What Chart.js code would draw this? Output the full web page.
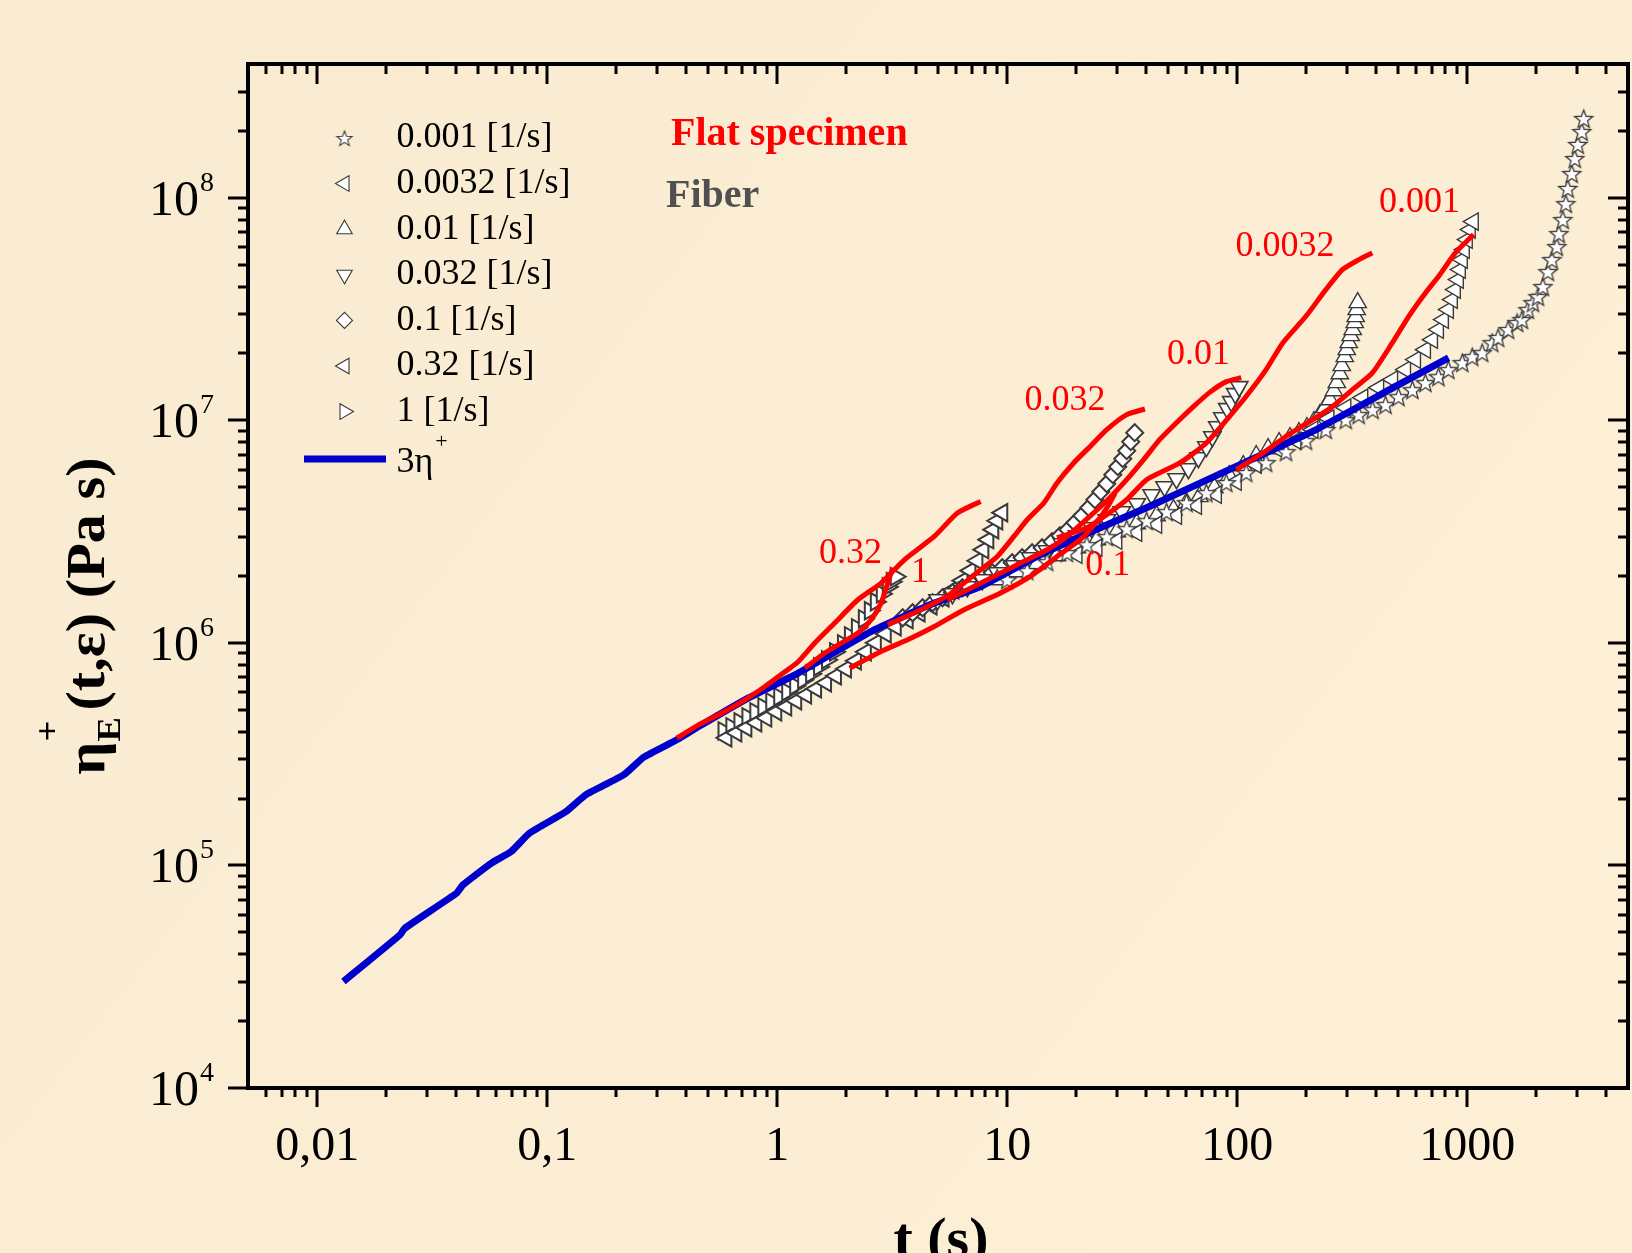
<!DOCTYPE html>
<html>
<head>
<meta charset="utf-8">
<script src="https://cdn.jsdelivr.net/npm/chart.js@4.4.1/dist/chart.umd.min.js"></script>
<style>
html,body{margin:0;padding:0;overflow:hidden;background:#FBEDD4;}
#c{display:block;}
</style>
</head>
<body>
<canvas id="c" width="1640" height="1253"></canvas>
<script>
// ---------------- DATA ----------------
// axis ticks
const xTickValues = [0.01, 0.1, 1, 10, 100, 1000];
const xTickLabels = ["0,01", "0,1", "1", "10", "100", "1000"];
const yTickExponents = [4, 5, 6, 7, 8];
const xTitle = "t (s)";
const legendLabels = ["0.001 [1/s]", "0.0032 [1/s]", "0.01 [1/s]", "0.032 [1/s]", "0.1 [1/s]", "0.32 [1/s]", "1 [1/s]"];
const envelopeLabel = "3η";

// 3 eta+ (LVE envelope), blue
const blueT   = [0.0130,0.0229,0.0240,0.0403,0.0430,0.0570,0.0697,0.0836,0.1205,0.147,0.215,0.263,0.366,0.455,0.724,1.233,2.649,4.816,7.662,13.94,20.77,40.36,99.0,212.7,487.9,829.8];
const blueEta = [3.01e4,4.88e4,5.22e4,7.50e4,8.18e4,1.023e5,1.155e5,1.396e5,1.746e5,2.077e5,2.553e5,3.069e5,3.673e5,4.212e5,5.555e5,7.32e5,1.147e6,1.511e6,1.795e6,2.493e6,3.012e6,4.055e6,6.218e6,8.93e6,1.423e7,1.910e7];

// Flat specimen (red lines)
const flat032T   = [0.366,0.455,0.555,0.724,0.885,1.080,1.233,1.456,1.777,2.242,2.828,3.571,4.816,6.075,7.662];
const flat032Eta = [3.736e5,4.287e5,4.756e5,5.555e5,6.375e5,7.42e5,8.233e5,9.99e5,1.229e6,1.564e6,1.859e6,2.366e6,3.012e6,3.838e6,4.327e6];
const flat1T     = [1.318,1.609,1.898,2.242,2.560,2.828,3.024,3.178];
const flat1Eta   = [7.71e5,9.01e5,9.99e5,1.108e6,1.272e6,1.511e6,1.859e6,2.172e6];
const flat01T    = [2.064,2.828,3.691,4.816,6.495,9.354,12.61,16.46,20.77,24.53,27.65,29.44];
const flat01Eta  = [7.71e5,9.16e5,1.034e6,1.186e6,1.411e6,1.677e6,1.991e6,2.449e6,2.911e6,3.508e6,4.182e6,4.721e6];
const flat0032T  = [3.024,4.214,5.499,7.662,9.051,10.69,12.21,14.42,16.46,19.44,22.94,27.09,33.07,39.69];
const flat0032Eta= [1.207e6,1.411e6,1.630e6,2.134e6,2.449e6,3.012e6,3.581e6,4.256e6,5.236e6,6.442e6,7.645e6,9.094e6,1.062e7,1.126e7];
const flat001T   = [5.499,8.193,11.42,14.90,18.19,23.73,27.92,33.07,39.18,45.95,54.43,64.49,75.64,89.64,104.1];
const flat001Eta = [1.564e6,1.924e6,2.288e6,2.624e6,3.012e6,3.838e6,4.497e6,5.418e6,6.665e6,8.197e6,9.775e6,1.154e7,1.334e7,1.495e7,1.557e7];
const flat00032T = [16.46,22.20,27.09,33.07,40.36,56.26,73.41,92.62,109.4,133.5,157.7,198.9,242.8,286.8,338.3,386.7];
const flat00032Eta=[2.972e6,3.296e6,3.771e6,4.405e6,5.418e6,6.442e6,7.921e6,1.043e7,1.284e7,1.692e7,2.231e7,2.939e7,3.874e7,4.764e7,5.284e7,5.664e7];
const flat0001T  = [99.0,129.2,163.0,212.7,259.6,316.9,386.7,472.1,556.9,658.0,751.2,887.4,1065];
const flat0001Eta= [6.009e6,7.143e6,8.482e6,1.008e7,1.157e7,1.375e7,1.635e7,2.231e7,2.939e7,3.744e7,4.446e7,5.664e7,6.846e7];

// Fiber (open symbols)
const fib0001T   = [10.0,12.21,14.90,18.19,22.20,27.09,33.07,40.36,49.27,60.15,73.41,89.64,109.4,133.5,163.0,199.0,242.8,296.4,337.4,388.0,441.6,502.6,578.0,658.0,749.1,827.5,951.5,1051,1161,1283,1362,1505,1647,1730,1837,1931,2030,2133,2242,2333,2453,2502,2604,2683,2736,2848,2935,3024,3147,3210];
const fib0001Eta = [1.924e6,2.112e6,2.318e6,2.545e6,2.764e6,3.003e6,3.262e6,3.543e6,3.890e6,4.270e6,4.736e6,5.253e6,5.827e6,6.462e6,7.238e6,8.113e6,9.092e6,1.008e7,1.062e7,1.118e7,1.178e7,1.279e7,1.375e7,1.479e7,1.573e7,1.692e7,1.819e7,1.936e7,2.018e7,2.238e7,2.357e7,2.561e7,2.753e7,2.840e7,3.149e7,3.385e7,3.603e7,3.997e7,4.668e7,5.284e7,6.047e7,6.918e7,7.996e7,9.436e7,1.103e8,1.288e8,1.504e8,1.739e8,1.989e8,2.275e8];
const fib00032T  = [20.09,24.53,29.94,36.54,44.61,54.43,66.45,81.11,99.0,120.9,152.0,180.0,213.3,250.2,296.4,351.2,411.8,473.5,539.0,595.5,658.0,705.8,749.1,787.3,827.5,861.2,887.4,914.2,932.7,951.5,970.5,1000,1030,1062];
const fib00032Eta= [2.493e6,2.681e6,2.881e6,3.130e6,3.400e6,3.732e6,4.139e6,4.640e6,5.306e6,6.328e6,7.390e6,8.113e6,9.092e6,1.019e7,1.142e7,1.266e7,1.404e7,1.526e7,1.692e7,1.877e7,2.081e7,2.308e7,2.561e7,2.840e7,3.149e7,3.493e7,3.874e7,4.297e7,4.766e7,5.284e7,5.861e7,6.501e7,7.211e7,7.834e7];
const fib001T    = [9.051,11.05,13.49,16.46,20.09,24.53,29.94,36.54,44.61,52.84,60.15,68.46,79.50,92.35,106.2,120.9,136.2,152.0,169.6,185.5,200.9,215.4,228.8,240.4,252.7,263.0,271.0,279.2,284.8,293.4,299.4,305.4,311.5,317.8,324.2,327.4,330.7,334.0];
const fib001Eta  = [1.924e6,2.090e6,2.271e6,2.467e6,2.681e6,2.911e6,3.162e6,3.436e6,3.732e6,3.971e6,4.270e6,4.545e6,4.987e6,5.647e6,6.263e6,6.945e6,7.467e6,7.947e6,8.370e6,8.814e6,9.282e6,9.876e6,1.062e7,1.142e7,1.240e7,1.361e7,1.479e7,1.623e7,1.764e7,1.936e7,2.081e7,2.238e7,2.406e7,2.561e7,2.753e7,2.929e7,3.149e7,3.385e7];
const fib0032T   = [4.977,5.780,6.712,7.795,9.051,10.72,12.58,14.90,17.30,20.09,23.33,27.09,31.47,36.54,42.44,48.31,54.43,61.36,67.79,73.41,77.95,81.92,86.12,90.50,94.19,98.02,102.0];
const fib0032Eta = [1.564e6,1.664e6,1.789e6,1.924e6,2.069e6,2.224e6,2.417e6,2.598e6,2.793e6,3.034e6,3.296e6,3.581e6,3.890e6,4.226e6,4.640e6,5.040e6,5.474e6,6.071e6,6.804e6,7.624e6,8.456e6,9.378e6,1.029e7,1.130e7,1.215e7,1.320e7,1.419e7];
const fib01T     = [3.512,3.879,4.285,4.734,5.231,5.780,6.386,7.058,7.795,8.611,9.515,10.51,11.61,12.83,14.18,15.66,16.96,18.37,19.70,21.12,22.65,24.04,25.53,27.09,28.77,30.24,31.78,33.07,34.43,35.83];
const fib01Eta   = [1.298e6,1.367e6,1.440e6,1.516e6,1.597e6,1.682e6,1.771e6,1.865e6,1.965e6,2.069e6,2.179e6,2.295e6,2.417e6,2.545e6,2.681e6,2.851e6,3.034e6,3.228e6,3.471e6,3.732e6,4.054e6,4.405e6,4.786e6,5.197e6,5.706e6,6.199e6,6.734e6,7.314e6,8.029e6,8.814e6];
const fib032T    = [0.601,0.664,0.734,0.811,0.896,0.990,1.094,1.209,1.335,1.475,1.630,1.800,1.990,2.198,2.428,2.683,2.964,3.275,3.691,4.159,4.688,5.284,5.837,6.386,6.918,7.417,7.873,8.274,8.697,9.051,9.515];
const fib032Eta  = [3.748e5,3.947e5,4.156e5,4.377e5,4.609e5,4.905e5,5.166e5,5.497e5,5.850e5,6.226e5,6.625e5,7.119e5,7.656e5,8.318e5,9.130e5,1.002e6,1.100e6,1.182e6,1.272e6,1.367e6,1.470e6,1.597e6,1.735e6,1.905e6,2.112e6,2.342e6,2.625e6,2.911e6,3.228e6,3.543e6,3.849e6];
const fib1T      = [0.584,0.632,0.685,0.742,0.803,0.870,0.942,1.020,1.105,1.197,1.296,1.404,1.520,1.646,1.783,1.931,2.070,2.220,2.380,2.527,2.683,2.848,3.024,3.147,3.275];
const fib1Eta    = [4.030e5,4.200e5,4.423e5,4.658e5,4.905e5,5.166e5,5.440e5,5.729e5,6.034e5,6.420e5,6.831e5,7.268e5,7.816e5,8.405e5,9.130e5,9.917e5,1.077e6,1.170e6,1.284e6,1.396e6,1.532e6,1.664e6,1.789e6,1.885e6,1.985e6];

// annotation texts (positions given in data units)
const flatLabels   = ["0.001", "0.0032", "0.01", "0.032", "0.1", "0.32", "1"];
const flatLabelT   = [620, 161.4, 67.8, 17.83, 27.36, 2.08, 4.18];
const flatLabelEta = [9.5e7, 6.05e7, 1.977e7, 1.227e7, 2.223e6, 2.518e6, 2.079e6];
const headerTexts  = ["Flat specimen", "Fiber"];

// ---------------- BUILD ----------------
const FONT = "'Liberation Serif','Times New Roman',serif";
const MARK_EDGE = '#3a3a3a';
const zip = (T, E) => T.slice(0, Math.min(T.length, E.length)).map((t, i) => ({x: t, y: E[i]}));

function makeStar(r, lw) {
  const s = Math.ceil(2 * r + 4);
  const c = document.createElement('canvas');
  c.width = s; c.height = s;
  const g = c.getContext('2d');
  g.translate(s / 2, s / 2 + 1);
  g.beginPath();
  for (let i = 0; i < 10; i++) {
    const rr = i % 2 ? r * 0.42 : r;
    const a = -Math.PI / 2 + i * Math.PI / 5;
    g.lineTo(rr * Math.cos(a), rr * Math.sin(a));
  }
  g.closePath();
  g.fillStyle = '#ffffff'; g.fill();
  g.strokeStyle = MARK_EDGE; g.lineWidth = lw; g.stroke();
  return c;
}
const starPlot = makeStar(9.5, 1.3);
const starLegend = makeStar(8, 1.1);

// edge: outline width (dense series drawn with heavier outline, as in the reference)
const fiberDefs = [
  {T: fib0001T,  E: fib0001Eta,  style: starPlot, leg: starLegend, rot: 0, edge: 1.3},
  {T: fib00032T, E: fib00032Eta, style: 'triangle', rot: -90, edge: 1.4},
  {T: fib001T,   E: fib001Eta,   style: 'triangle', rot: 0, edge: 1.4},
  {T: fib0032T,  E: fib0032Eta,  style: 'triangle', rot: 180, edge: 1.6},
  {T: fib01T,    E: fib01Eta,    style: 'rectRot', rot: 0, edge: 2.0},
  {T: fib032T,   E: fib032Eta,   style: 'triangle', rot: -90, edge: 2.0},
  {T: fib1T,     E: fib1Eta,     style: 'triangle', rot: 90, edge: 2.0}
];
const flatDefs = [
  [flat0001T, flat0001Eta], [flat00032T, flat00032Eta], [flat001T, flat001Eta],
  [flat0032T, flat0032Eta], [flat01T, flat01Eta], [flat032T, flat032Eta], [flat1T, flat1Eta]
];

const datasets = [];
flatDefs.forEach((d, i) => datasets.push({
  label: 'Flat ' + flatLabels[i], data: zip(d[0], d[1]), showLine: true,
  borderColor: '#ff0000', borderWidth: 5, pointRadius: 0, tension: 0.2, order: 0
}));
datasets.push({
  label: envelopeLabel, data: zip(blueT, blueEta), showLine: true,
  borderColor: '#0000cc', borderWidth: 7, pointRadius: 0, tension: 0.15, order: 1
});
fiberDefs.forEach((d, i) => datasets.push({
  label: legendLabels[i], data: zip(d.T, d.E), showLine: false,
  pointStyle: d.style, pointRotation: d.rot,
  pointRadius: d.style === 'rectRot' ? 8.5 : 10,
  pointBackgroundColor: '#ffffff', pointBorderColor: MARK_EDGE, pointBorderWidth: d.edge,
  order: 2 + i
}));

function txt(c, s, x, y, font, color, align, base) {
  c.font = font; c.fillStyle = color; c.textAlign = align || 'left'; c.textBaseline = base || 'alphabetic';
  c.fillText(s, x, y);
}

const decor = {
  id: 'decor',
  beforeDraw(chart) {
    const c = chart.ctx;
    c.save();
    const g = c.createLinearGradient(0, 0, chart.width, chart.height);
    g.addColorStop(0, '#F9EBD2'); g.addColorStop(1, '#FDF0D6');
    c.fillStyle = g; c.fillRect(0, 0, chart.width, chart.height);
    c.restore();
  },
  afterDraw(chart) {
    const c = chart.ctx, a = chart.chartArea, xs = chart.scales.x, ys = chart.scales.y;
    c.save();
    c.strokeStyle = '#000'; c.lineCap = 'butt';
    // ticks
    c.lineWidth = 3;
    const line = (x1, y1, x2, y2) => { c.beginPath(); c.moveTo(x1, y1); c.lineTo(x2, y2); c.stroke(); };
    for (let e = -3; e <= 3; e++) for (let m = 1; m <= 9; m++) {
      const v = m * Math.pow(10, e);
      if (v <= xs.min * 1.0001 || v >= xs.max * 0.9999) continue;
      const px = Math.round(xs.getPixelForValue(v));
      const L = m === 1 ? 19 : 9;
      line(px, a.bottom, px, a.bottom + L);
      line(px, a.top, px, a.top + L + 1);
    }
    for (let e = 4; e <= 8; e++) for (let m = 1; m <= 9; m++) {
      const v = m * Math.pow(10, e);
      if (v < ys.min * 0.9999 || v >= ys.max * 0.9999) continue;
      const py = Math.round(ys.getPixelForValue(v));
      const L = m === 1 ? 20 : 10;
      line(a.left - L, py, a.left, py);
      line(a.right - L, py, a.right, py);
    }
    // frame
    c.lineWidth = 4;
    c.strokeRect(a.left, a.top, a.right - a.left, a.bottom - a.top);

    // x tick labels
    xTickValues.forEach((v, i) => {
      txt(c, xTickLabels[i], xs.getPixelForValue(v), 1160, `48px ${FONT}`, '#000', 'center');
    });
    // y tick labels 10^n
    yTickExponents.forEach(e => {
      const py = ys.getPixelForValue(Math.pow(10, e));
      txt(c, '10', 199, py + 17, `50px ${FONT}`, '#000', 'right');
      txt(c, String(e), 200, py - 7, `28px ${FONT}`, '#000', 'left');
    });

    // x title
    txt(c, xTitle, 941, 1257, `bold 58px ${FONT}`, '#000', 'center');
    // y title (rotated)
    c.save();
    c.translate(104, 616);
    c.rotate(-Math.PI / 2);
    c.scale(1.08, 1);
    const big = `bold 54px ${FONT}`, small = `bold 34px ${FONT}`;
    c.font = big; const wEta = c.measureText('η').width; const rest = '(t,ε) (Pa s)'; const wRest = c.measureText(rest).width;
    c.font = small; const wS = Math.max(c.measureText('E').width, c.measureText('+').width);
    let x0 = -(wEta + wS + 6 + wRest) / 2;
    txt(c, 'η', x0, 0, big, '#000'); x0 += wEta;
    txt(c, 'E', x0, 16, small, '#000');
    txt(c, '+', x0, -46, small, '#000');
    x0 += wS + 6;
    txt(c, rest, x0, 0, big, '#000');
    c.restore();

    // legend
    const lx = 344.5, tx = 396.5;
    fiberDefs.forEach((d, i) => {
      const y = 138 + i * 45.6;
      c.fillStyle = '#ffffff'; c.strokeStyle = MARK_EDGE; c.lineWidth = 1.1;
      Chart.helpers.drawPoint(c, {pointStyle: d.leg || d.style, rotation: d.rot, radius: d.style === 'rectRot' ? 8 : 9, borderWidth: 1.1}, lx, y);
      txt(c, legendLabels[i], tx, y, `36px ${FONT}`, '#000', 'left', 'middle');
    });
    c.strokeStyle = '#0000cc'; c.lineWidth = 7;
    line(304, 459, 386, 459);
    c.font = `36px ${FONT}`;
    txt(c, envelopeLabel, tx, 463, `36px ${FONT}`, '#000', 'left', 'middle');
    const w3 = c.measureText(envelopeLabel).width;
    txt(c, '+', tx + w3 + 2, 448, `22px ${FONT}`, '#000', 'left', 'alphabetic');

    // headers
    txt(c, headerTexts[0], 671, 135, `bold 40px ${FONT}`, '#ff0000', 'left', 'middle');
    txt(c, headerTexts[1], 666, 197, `bold 40px ${FONT}`, '#505050', 'left', 'middle');

    // red rate labels
    flatLabels.forEach((s, i) => {
      txt(c, s, xs.getPixelForValue(flatLabelT[i]), ys.getPixelForValue(flatLabelEta[i]), `36px ${FONT}`, '#ff0000', 'center', 'middle');
    });
    c.restore();
  }
};

new Chart(document.getElementById('c'), {
  type: 'scatter',
  data: {datasets},
  options: {
    responsive: false, animation: false, events: [],
    layout: {padding: {left: 248, top: 64, right: 7, bottom: 165}},
    scales: {
      x: {type: 'logarithmic', min: 0.005, max: 5000, display: false},
      y: {type: 'logarithmic', min: 1e4, max: 4e8, display: false}
    },
    plugins: {legend: {display: false}, tooltip: {enabled: false}}
  },
  plugins: [decor]
});
</script>
</body>
</html>
